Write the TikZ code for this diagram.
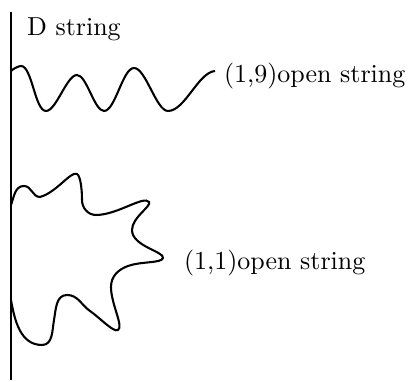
\documentclass[tikz,border=0pt]{standalone}
\begin{document}
\begin{tikzpicture}[x=0.01353cm,y=0.01353cm,line width=0.8pt]
\tikzset{strlabel/.style={anchor=base west,inner sep=0pt},
  wave/.style={looseness=0.55},
  tipin/.style={in looseness=0.4},
  tipout/.style={out looseness=0.4}}
\path[use as bounding box] (0,0) rectangle (410,382);
% D string
\coordinate (Dtop) at (11,370);
\coordinate (Dbot) at (11,2);
\draw (Dtop) -- (Dbot);
\node[strlabel] (dlabel) at (26,346) {D string};
% open string ending on the D string
\draw[wave] (11,311) to[out=50,in=180] (21,316) to[out=0,in=180] (46,271)
  to[out=0,in=180] (77,307) to[out=0,in=180] (104,271)
  to[out=0,in=180] (134,314) to[out=0,in=180] (168,271)
  to[out=0,in=185,looseness=0.7] (215,311);
\node[strlabel] (ninelabel) at (223,299) {(1,9)open string};
% star shaped string
\draw (11,177) to[out=70,in=180] (24,196) to[out=0,in=180] (40,185)
  to[out=15,in=150,tipin] (77,208) to[out=-30,in=90,tipout] (82,182)
  to[out=-90,in=180] (96,167) to[out=0,in=125,tipin] (149,180)
  to[out=-55,in=90,tipout] (132,152) to[out=-90,in=75,tipin] (163,124)
  to[out=-105,in=20,tipout] (128,116) to[out=200,in=90] (111,95)
  to[out=-90,in=30,tipin] (118,52) to[out=210,in=-35,tipout] (90,71)
  to[out=145,in=0] (67,87) to[out=180,in=80] (54,62)
  to[out=-100,in=0] (42,37) to[out=180,in=-80] (11,82);
\node[strlabel] (onelabel) at (183,112) {(1,1)open string};
\end{tikzpicture}
\end{document}
